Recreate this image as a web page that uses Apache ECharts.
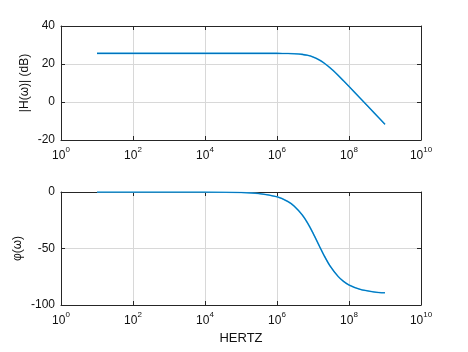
<!DOCTYPE html>
<html>
<head>
<meta charset="utf-8">
<script src="https://cdn.jsdelivr.net/npm/echarts@6/dist/echarts.min.js"></script>
<style>
  html, body { margin: 0; padding: 0; background: #fff; }
  #chart { width: 468px; height: 352px; }
</style>
</head>
<body>
<div id="chart"></div>
<script>
// frequency points (Hz)
const freqs = [1e1, 1e2, 1e3, 1e4, 1e5, 3e5, 1e6, 2e6, 3e6, 5e6, 7e6, 1e7, 1.5e7, 2e7, 3e7, 5e7, 7e7, 1e8, 2e8, 5e8, 1e9];
// magnitude |H(w)| in dB
const magDb = [25.6, 25.6, 25.6, 25.6, 25.6, 25.6, 25.58, 25.51, 25.39, 25.05, 24.58, 23.72, 22.14, 20.6, 17.92, 13.98, 11.21, 8.19, 2.23, -5.71, -11.73];
// phase in degrees
const phaseDeg = [0, 0, 0, -0.04, -0.42, -1.26, -4.21, -8.37, -12.44, -20.18, -27.24, -36.32, -47.8, -55.78, -65.62, -74.78, -79.0, -82.26, -86.11, -88.44, -89.22];

const magTicks = [-20, 0, 20, 40];
const phaseTicks = [-100, -50, 0];

const BLUE = '#0072BD';
const CYAN = '#4DBEEE';
const AXIS = '#262626';
const GRID = '#d8d8d8';
const FONT = 'Liberation Sans, Arial, sans-serif';

const pairs = (ys) => freqs.map((f, i) => [f, ys[i]]);

const chart = echarts.init(document.getElementById('chart'), null, { renderer: 'canvas' });

function logAxis(gridIndex, showLabel) {
  return {
    type: 'log',
    logBase: 10,
    gridIndex: gridIndex,
    min: 1,
    max: 1e10,
    interval: 2,
    axisLine: { show: true, onZero: false, lineStyle: { color: AXIS, width: 1 } },
    axisTick: { show: true, inside: true, length: 4, lineStyle: { color: AXIS } },
    splitLine: { show: showLabel, lineStyle: { color: GRID, width: 1 } },
    minorTick: { show: false },
    axisLabel: {
      show: showLabel,
      margin: 6,
      color: '#111',
      fontFamily: FONT,
      fontSize: 12,
      formatter: (v) => '{b|10}{s|' + Math.round(Math.log10(v)) + '}',
      rich: {
        b: { fontFamily: FONT, fontSize: 12, color: '#111', verticalAlign: 'bottom' },
        s: { fontFamily: FONT, fontSize: 8, color: '#111', verticalAlign: 'top', padding: [0, 0, 8, 0] }
      }
    }
  };
}

function valAxis(gridIndex, ticks, interval, name, showLabel, position, gap) {
  return {
    type: 'value',
    gridIndex: gridIndex,
    position: position,
    min: ticks[0],
    max: ticks[ticks.length - 1],
    interval: interval,
    name: showLabel ? name : '',
    nameLocation: 'middle',
    nameGap: gap || 30,
    nameMoveOverlap: false,
    nameTextStyle: { fontFamily: FONT, fontSize: 12, color: '#111' },
    axisLine: { show: true, lineStyle: { color: AXIS, width: 1 } },
    axisTick: { show: true, inside: true, length: 4, lineStyle: { color: AXIS } },
    splitLine: { show: showLabel, lineStyle: { color: GRID, width: 1 } },
    axisLabel: { show: showLabel, margin: 6, color: '#111', fontFamily: FONT, fontSize: 12 }
  };
}

const topX = logAxis(0, true);
const topX2 = Object.assign(logAxis(0, false), { position: 'top' });
const botX = Object.assign(logAxis(1, true), {
  name: 'HERTZ',
  nameLocation: 'middle',
  nameGap: 27,
  nameMoveOverlap: false,
  nameTextStyle: { fontFamily: FONT, fontSize: 13, color: '#111' }
});
const botX2 = Object.assign(logAxis(1, false), { position: 'top' });

chart.setOption({
  backgroundColor: '#fff',
  animation: false,
  grid: [
    { left: 61, right: 47, top: 26, height: 114, show: false },
    { left: 61, right: 47, top: 192, height: 113, show: false }
  ],
  xAxis: [topX, botX, topX2, botX2],
  yAxis: [
    valAxis(0, magTicks, 20, '|H(ω)| (dB)', true, 'left', 30),
    valAxis(1, phaseTicks, 50, 'φ(ω)', true, 'left', 37),
    valAxis(0, magTicks, 20, '', false, 'right'),
    valAxis(1, phaseTicks, 50, '', false, 'right')
  ],
  series: [
    {
      type: 'line', xAxisIndex: 0, yAxisIndex: 0, data: pairs(magDb),
      smooth: 0.3, showSymbol: false, lineStyle: { color: CYAN, width: 1.6 }, z: 3
    },
    {
      type: 'line', xAxisIndex: 0, yAxisIndex: 0, data: pairs(magDb),
      smooth: 0.3, showSymbol: false, lineStyle: { color: BLUE, width: 1.1 }, z: 4
    },
    {
      type: 'line', xAxisIndex: 1, yAxisIndex: 1, data: pairs(phaseDeg),
      smooth: 0.3, showSymbol: false, lineStyle: { color: CYAN, width: 1.6 }, z: 3
    },
    {
      type: 'line', xAxisIndex: 1, yAxisIndex: 1, data: pairs(phaseDeg),
      smooth: 0.3, showSymbol: false, lineStyle: { color: BLUE, width: 1.1 }, z: 4
    }
  ]
});
</script>
</body>
</html>
